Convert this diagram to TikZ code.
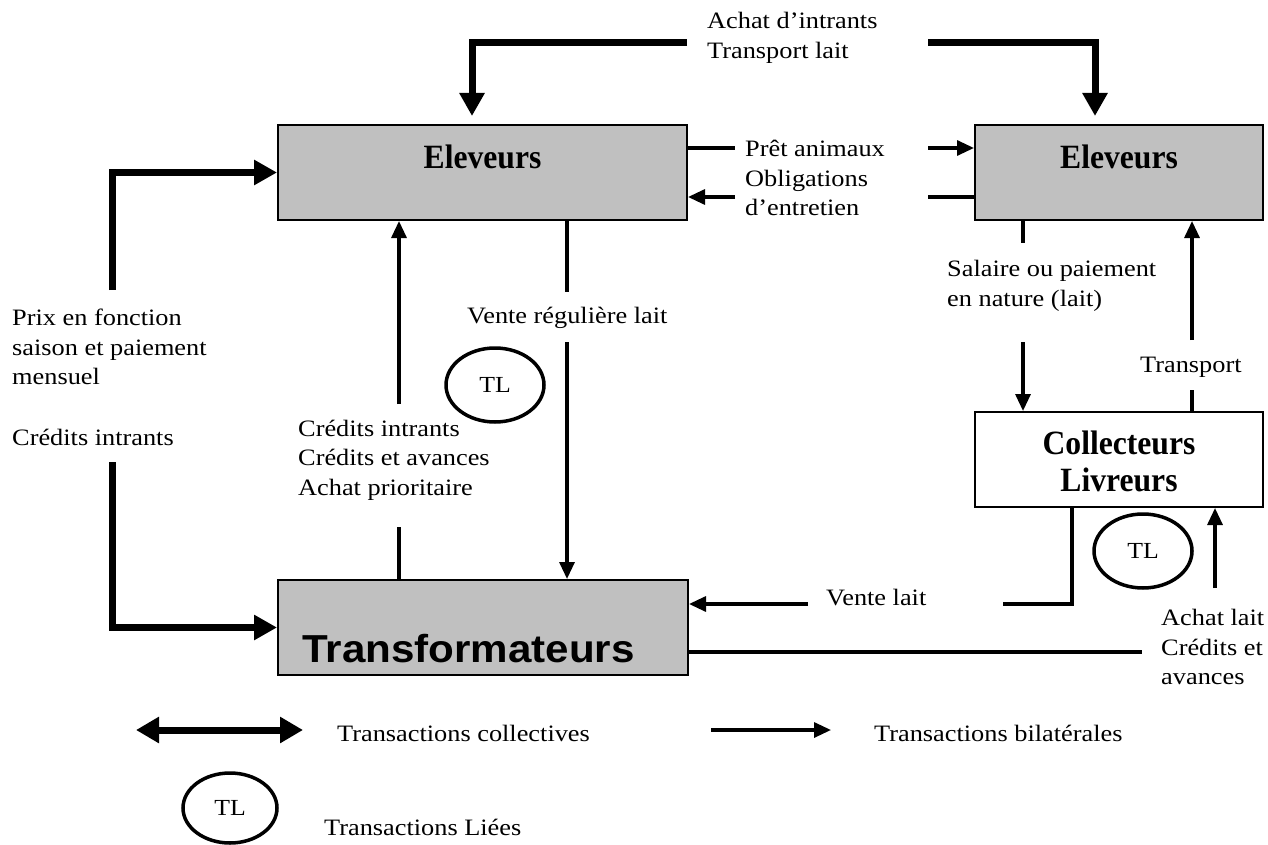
\documentclass[tikz,border=0pt]{standalone}
\usepackage{fontspec}
\setmainfont{Liberation Serif}[FakeStretch=1.12]
\newfontfamily\labelserif{Liberation Serif}[FakeStretch=0.93]
\newfontfamily\labelsans{Liberation Sans}[FakeStretch=1.08]
\usetikzlibrary{arrows.meta,shapes.geometric}
\definecolor{boxgray}{HTML}{C0C0C0}

\begin{document}
\begin{tikzpicture}[x=1pt,y=-1pt,
  line join=miter,
  graybox/.style={draw, line width=2pt, fill=boxgray, inner sep=0pt},
  whitebox/.style={draw, line width=2pt, fill=white, inner sep=0pt},
  widebox/.style={minimum width=409pt, minimum height=95pt},
  sidebox/.style={minimum width=288pt, minimum height=95pt},
  boxlabel/.style={font=\labelserif\bfseries\fontsize{34}{37}\selectfont, inner sep=0pt, align=center},
  lbl/.style={font=\fontsize{23.5}{29.5}\selectfont, inner sep=0pt, align=left, anchor=west},
  bilat/.style={line width=3.2pt},
  bilatarrow/.style={bilat, -{Triangle[length=17pt,width=15pt]}},
  collect/.style={line width=7pt},
  collectarrow/.style={collect, -{Triangle[length=23pt,width=24pt]}},
  linked/.style={ellipse, draw, line width=3.5pt, minimum width=98pt, minimum height=74pt,
                 inner sep=0pt, font=\fontsize{23}{25}\selectfont}]

\useasboundingbox (0,0) rectangle (1268,845);

% actors
\node[graybox, widebox] (eleveursA) at (482.5,172.5) {};
\node[boxlabel] (eleveursAlbl) at (482.5,157) {Eleveurs};
\node[graybox, sidebox] (eleveursB) at (1119,172.5) {};
\node[boxlabel] (eleveursBlbl) at (1119,157) {Eleveurs};
\node[whitebox, sidebox] (collect) at (1119,459.5) {};
\node[boxlabel] (collectlbl) at (1119,461) {Collecteurs\\Livreurs};
\node[graybox, minimum width=410pt, minimum height=95pt] (transfo) at (483,627.5) {};
\node[font=\labelsans\bfseries\fontsize{39}{42}\selectfont, inner sep=0pt, anchor=base west]
  (transfolbl) at (302,662) {Transformateurs};

% collective transactions (heavy arrows)
\coordinate (achatL) at (687,43);
\coordinate (achatR) at (928,43);
\coordinate (dropL) at (472,0);
\coordinate (dropR) at (1095,0);
\draw[collectarrow, shorten >=8pt] (achatL) -| (dropL |- eleveursA.north);
\draw[collectarrow, shorten >=8pt] (achatR) -| (dropR |- eleveursB.north);
\coordinate (prixTop) at (112,290);
\coordinate (credBot) at (112,462);
\draw[collectarrow] (prixTop) |- (eleveursA.west);
\draw[collectarrow] (credBot) |- (transfo.west);

% bilateral transactions between the two groups of breeders
\coordinate (pretA) at (735,148);
\coordinate (pretB) at (928,148);
\draw[bilat] (eleveursA.east |- pretA) -- (pretA);
\draw[bilatarrow] (pretB) -- (eleveursB.west |- pretB);
\coordinate (oblA) at (735,197);
\coordinate (oblB) at (928,197);
\draw[bilat] (eleveursB.west |- oblB) -- (oblB);
\draw[bilatarrow] (oblA) -- (eleveursA.east |- oblA);

% processors <-> breeders
\coordinate (credLow) at (399,527);
\coordinate (credHigh) at (399,404);
\draw[bilat] (transfo.north -| credLow) -- (credLow);
\draw[bilatarrow] (credHigh) -- (eleveursA.south -| credHigh);
\coordinate (venteHigh) at (567,292);
\coordinate (venteLow) at (567,342);
\draw[bilat] (eleveursA.south -| venteHigh) -- (venteHigh);
\draw[bilatarrow] (venteLow) -- (transfo.north -| venteLow);

% breeders <-> collectors
\coordinate (salHigh) at (1023,243);
\coordinate (salLow) at (1023,342);
\draw[bilat] (eleveursB.south -| salHigh) -- (salHigh);
\draw[bilatarrow] (salLow) -- (collect.north -| salLow);
\coordinate (trLow) at (1192,390);
\coordinate (trHigh) at (1192,340);
\draw[bilat] (collect.north -| trLow) -- (trLow);
\draw[bilatarrow] (trHigh) -- (eleveursB.south -| trHigh);

% collectors <-> processors
\coordinate (vlDrop) at (1072,0);
\coordinate (vlR) at (1003,604);
\coordinate (vlL) at (808,604);
\draw[bilat] (collect.south -| vlDrop) |- (vlR);
\draw[bilatarrow] (vlL) -- (transfo.east |- vlL);
\coordinate (achatLait) at (1215,588);
\draw[bilatarrow] (achatLait) -- (collect.south -| achatLait);
\coordinate (credEnd) at (1142,652);
\draw[bilat] (transfo.east |- credEnd) -- (credEnd);

% linked transactions
\node[linked] (tlA) at (495,385) {TL};
\node[linked] (tlB) at (1143,551) {TL};

% flow labels
\node[lbl] (achatTxt) at (707,38) {Achat d’intrants\\Transport lait};
\node[lbl] (pretTxt) at (745,178) {Prêt animaux\\Obligations\\d’entretien};
\node[lbl] (prixTxt) at (12,347) {Prix en fonction\\saison et paiement\\mensuel};
\node[lbl] (credTxt) at (12,437) {Crédits intrants};
\node[lbl] (credAvTxt) at (298,460) {Crédits intrants\\Crédits et avances\\Achat prioritaire};
\node[lbl] (venteTxt) at (467,318) {Vente régulière lait};
\node[lbl] (salTxt) at (947,286) {Salaire ou paiement\\en nature (lait)};
\node[lbl] (trTxt) at (1140,367) {Transport};
\node[lbl] (vlTxt) at (826,598) {Vente lait};
\node[lbl] (achatLaitTxt) at (1161,647) {Achat lait\\Crédits et\\avances};

% legend
\coordinate (legCA) at (136,730);
\coordinate (legCB) at (303,730);
\draw[collect, {Triangle[length=23pt,width=25pt]}-{Triangle[length=23pt,width=25pt]}] (legCA) -- (legCB);
\node[lbl] (legCTxt) at (337,733) {Transactions collectives};
\coordinate (legBA) at (711,730);
\coordinate (legBB) at (831,730);
\draw[bilatarrow] (legBA) -- (legBB);
\node[lbl] (legBTxt) at (874,733) {Transactions bilatérales};
\node[linked, minimum width=94pt, minimum height=70pt] (legTL) at (230,808) {TL};
\node[lbl] (legTLTxt) at (324,827) {Transactions Liées};

\end{tikzpicture}
\end{document}
